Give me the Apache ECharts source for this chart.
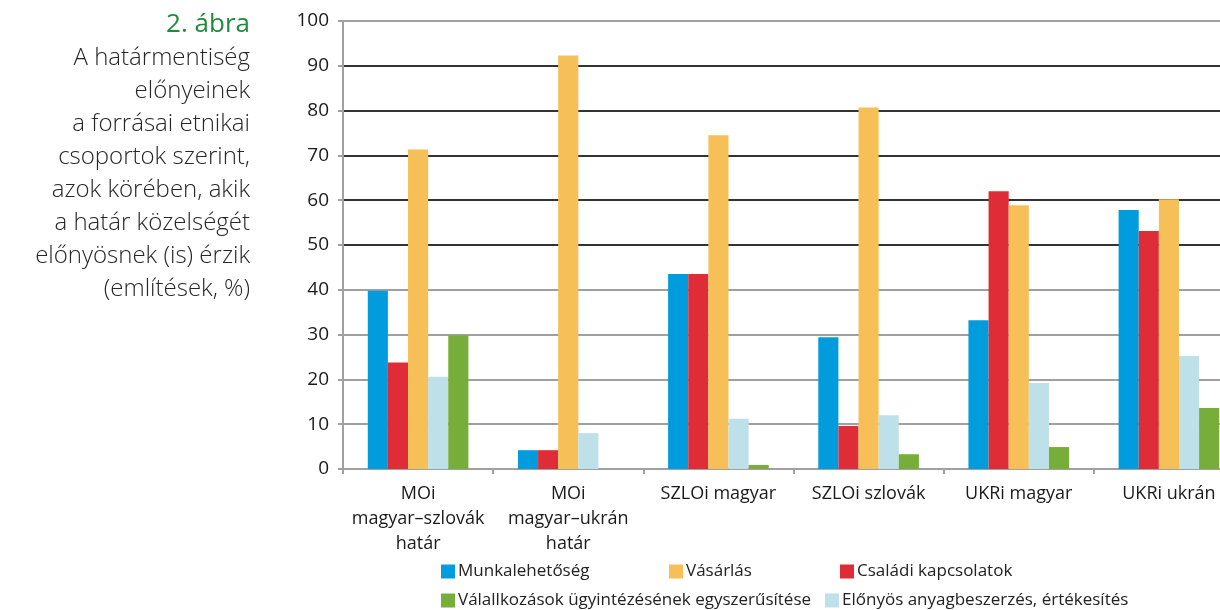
<!DOCTYPE html>
<html>
<head>
<meta charset="utf-8">
<script src="https://cdn.jsdelivr.net/npm/echarts@6/dist/echarts.min.js"></script>
<style>
  html, body { margin: 0; padding: 0; background: #fff; }
  #chart { width: 1220px; height: 610px; }
</style>
</head>
<body>
<div id="chart"></div>
<script>
// adatok
const categories = [
  'MOi\nmagyar–szlovák\nhatár',
  'MOi\nmagyar–ukrán\nhatár',
  'SZLOi magyar',
  'SZLOi szlovák',
  'UKRi magyar',
  'UKRi ukrán'
]
const munka = [39.8, 4.2, 43.5, 29.4, 33.2, 57.8]
const csaladi = [23.8, 4.2, 43.5, 9.6, 62.0, 53.1]
const vasarlas = [71.3, 92.3, 74.5, 80.7, 58.9, 60.2]
const elonyos = [20.6, 8.0, 11.2, 12.0, 19.2, 25.2]
const vallalkozas = [29.8, 0, 0.9, 3.3, 4.9, 13.6]
const yTicks = [0, 10, 20, 30, 40, 50, 60, 70, 80, 90, 100]

const titleLines = [
  'A határmentiség',
  'előnyeinek',
  'a forrásai etnikai',
  'csoportok szerint,',
  'azok körében, akik',
  'a határ közelségét',
  'előnyösnek (is) érzik',
  '(említések, %)'
]

const font = '"Open Sans", "Noto Sans", sans-serif'
const colors = {
  munka: '#009cde',
  csaladi: '#de2d37',
  vasarlas: '#f6bf57',
  elonyos: '#bee0e8',
  vallalkozas: '#76ae39'
}

// rácsvonalak színe: alul szürke, 50-90 között sötét
const gridColors = yTicks.map(v => (v >= 50 && v <= 90 ? '#333333' : '#a0a0a0'))

const chart = echarts.init(document.getElementById('chart'))

const mkSeries = (name, data, color) => ({
  name: name,
  type: 'bar',
  data: data,
  barGap: 0,
  barCategoryGap: '33%',
  itemStyle: { color: color },
  emphasis: { disabled: true }
})

const mkLegend = (name, left, top) => ({
  data: [name],
  left: left,
  top: top,
  icon: 'rect',
  itemWidth: 14,
  itemHeight: 14,
  itemGap: 0,
  padding: 0,
  selectedMode: false,
  textStyle: { fontFamily: font, fontSize: 17, color: '#222', padding: [0, 0, 0, -2] }
})

const graphicTexts = [{
  type: 'text',
  right: 970,
  top: 12,
  style: { text: '2. ábra', font: '26px ' + font, fill: '#1f8b3d', textAlign: 'right' }
}]
titleLines.forEach((line, i) => {
  graphicTexts.push({
    type: 'text',
    right: 970,
    top: 46 + i * 33,
    style: { text: line, font: '300 24px ' + font, fill: '#262626', textAlign: 'right' }
  })
})

const option = {
  animation: false,
  graphic: graphicTexts,
  // a diagram jobbra kilóg a képből
  grid: { left: 343, top: 21, bottom: 141, width: 901, containLabel: false, outerBoundsMode: 'none' },
  legend: [
    mkLegend('Munkalehetőség', 441, 563),
    mkLegend('Vásárlás', 669, 563),
    mkLegend('Családi kapcsolatok', 840, 563),
    mkLegend('Válallkozások ügyintézésének egyszerűsítése', 441, 592),
    mkLegend('Előnyös anyagbeszerzés, értékesítés', 825, 592)
  ],
  xAxis: {
    type: 'category',
    data: categories,
    axisLine: { show: true, lineStyle: { color: '#a0a0a0', width: 2 } },
    axisTick: { show: true, length: 5, lineStyle: { color: '#a0a0a0', width: 2 } },
    axisLabel: {
      interval: 0,
      margin: 12,
      fontFamily: font,
      fontSize: 18,
      lineHeight: 25,
      color: '#1a1a1a'
    }
  },
  yAxis: {
    type: 'value',
    min: 0,
    max: 100,
    interval: 10,
    axisLine: { show: true, lineStyle: { color: '#a0a0a0', width: 2 } },
    axisTick: { show: true, length: 5, lineStyle: { color: '#a0a0a0', width: 2 } },
    axisLabel: {
      margin: 14,
      fontFamily: font,
      fontSize: 19,
      color: '#1a1a1a',
      formatter: v => (yTicks.includes(v) ? String(v) : '')
    },
    splitLine: { show: true, lineStyle: { color: gridColors, width: 2 } }
  },
  series: [
    mkSeries('Munkalehetőség', munka, colors.munka),
    mkSeries('Családi kapcsolatok', csaladi, colors.csaladi),
    mkSeries('Vásárlás', vasarlas, colors.vasarlas),
    mkSeries('Előnyös anyagbeszerzés, értékesítés', elonyos, colors.elonyos),
    mkSeries('Válallkozások ügyintézésének egyszerűsítése', vallalkozas, colors.vallalkozas)
  ]
}

chart.setOption(option)
</script>
</body>
</html>
